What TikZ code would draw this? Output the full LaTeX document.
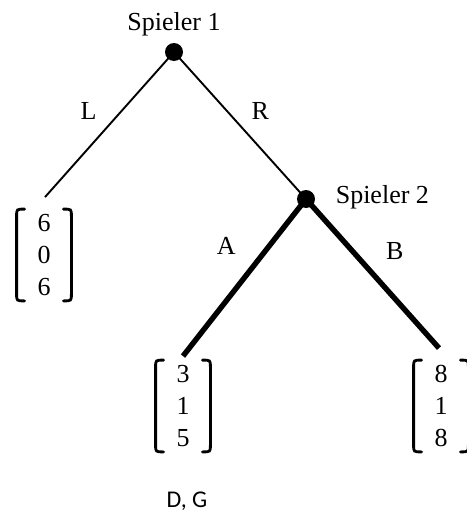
\documentclass[tikz,border=0pt]{standalone}
\usepackage{fontspec}
\setmainfont{Liberation Serif}
\newfontfamily\carlito{Carlito}
\usetikzlibrary{positioning}
\begin{document}
\begin{tikzpicture}[x=0.5pt,y=-0.5pt,
				font=\fontsize{13}{16}\selectfont,
				dot/.style = {circle, fill=black, inner sep=0pt, minimum size=9pt},
				payoff/.style = {inner sep=0pt, minimum width=27pt, minimum height=45.5pt, align=center},
				klammer/.style = {line width=1.4pt, line cap=round},
				zug/.style = {line width=0.95pt},
				bester zug/.style = {line width=2.7pt}]
				\useasboundingbox (0,0) rectangle (466,514);
				
				\node[dot] (s1) at (174,52) {};
				\node[dot] (s2) at (306,199) {};
				\node[inner sep=0pt] [above=3pt of s1] (n1) {Spieler 1};
				\node[inner sep=0pt,yshift=1pt] [right=10pt of s2] (n2) {Spieler 2};
				\node[payoff] (p1) at (44,255) {6\\0\\6};
				\node[payoff] (p2) at (183,406) {3\\1\\5};
				\node[payoff] (p3) at (441,406) {8\\1\\8};
				\node[inner sep=0pt,xshift=2pt,font=\carlito\fontsize{12}{14}\selectfont] [below=20pt of p2] (gg) {D, G};
				
				\draw[zug] (s1.center) -- node[pos=0.53,above left=1pt] {L} ([xshift=0.5pt,yshift=6pt]p1.north);
				\draw[zug] (s1.center) -- node[pos=0.52,above right=1pt] {R} (s2.center);
				\draw[bester zug] (s2.center) -- node[pos=0.45,above left=4pt] {A} ([yshift=2pt]p2.north);
				\draw[bester zug] (s2.center) -- node[pos=0.5,above right=3pt] {B} ([xshift=-1pt,yshift=6pt]p3.north);
				
				\foreach \pay in {p1,p2,p3}{
					\draw[klammer] ([xshift=4pt]\pay.north west) .. controls (\pay.north west) .. ([yshift=-3.5pt]\pay.north west)
						-- ([yshift=3.5pt]\pay.south west) .. controls (\pay.south west) .. ([xshift=4pt]\pay.south west);
					\draw[klammer] ([xshift=-4pt]\pay.north east) .. controls (\pay.north east) .. ([yshift=-3.5pt]\pay.north east)
						-- ([yshift=3.5pt]\pay.south east) .. controls (\pay.south east) .. ([xshift=-4pt]\pay.south east);
				}
				\end{tikzpicture}
\end{document}
